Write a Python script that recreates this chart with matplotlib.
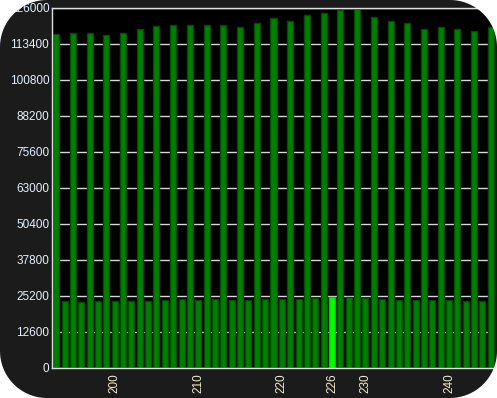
import matplotlib
matplotlib.use("Agg")
import matplotlib.pyplot as plt
from matplotlib.patches import Polygon
from matplotlib.transforms import Affine2D
import numpy as np

# bar data: one bar per x value, tall bars on odd x, short bars on even x
x_tall = list(range(193, 246, 2))
tall_values = [116800, 117100, 117400, 116400, 117400, 118500, 119600, 119900,
               120200, 119900, 120200, 119200, 120600, 122400, 121300, 123400,
               124200, 125200, 125500, 122700, 121300, 120600, 118500, 119200,
               118500, 118100, 119200]
x_short = list(range(194, 245, 2))
short_values = [23450, 23100, 23450, 23450, 23450, 23450, 23800, 24150,
                23800, 24150, 23800, 23800, 24150, 24150, 24150, 24500,
                24850, 24850, 24500, 24150, 23800, 23800, 23800, 23800,
                23450, 23450]
highlight_x = 226
y_ticks = [0, 12600, 25200, 37800, 50400, 63000, 75600, 88200, 100800, 113400, 126000]
x_ticks = [200, 210, 220, 226, 230, 240]

W, H = 497, 398
fig = plt.figure(figsize=(W / 100, H / 100), dpi=100)
fig.patch.set_facecolor("#1b1b1b")

ax = fig.add_axes([52 / W, 30 / H, 443 / W, 360 / H])
ax.set_facecolor("black")
ax.set_axisbelow(True)

green = "#008000"
edge = "#004c00"
ax.bar(x_tall, tall_values, width=0.72, color=green, edgecolor=edge, linewidth=1, zorder=2)
short_colors = ["#00ff00" if x == highlight_x else green for x in x_short]
short_edges = ["#00c800" if x == highlight_x else edge for x in x_short]
ax.bar(x_short, short_values, width=0.72, color=short_colors, edgecolor=short_edges,
       linewidth=1, zorder=2)

ax.set_xlim(192.5, 245.5)
ax.set_ylim(0, 126000)
ax.set_yticks(y_ticks)
ax.set_yticklabels([str(v) for v in y_ticks])
ax.set_xticks(x_ticks)
ax.set_xticklabels([str(v) for v in x_ticks], rotation=90)
ax.grid(axis="y", color="#d8d8d8", linewidth=1)
ax.xaxis.grid(False)
ax.tick_params(axis="y", length=0, pad=2, labelsize=8.5, labelcolor="#e6f0ff")
ax.tick_params(axis="x", length=0, pad=4, labelsize=8.5, labelcolor="#f4ead0")
for lbl in ax.get_xticklabels() + ax.get_yticklabels():
    lbl.set_family("Liberation Sans")
for side in ["left", "bottom", "top"]:
    ax.spines[side].set_color("#e0e0e0")
    ax.spines[side].set_linewidth(1)
    ax.spines[side].set_zorder(3)
ax.spines["right"].set_visible(False)

# white rounded corners of the panel
r = 47
px = Affine2D().scale(1 / W, 1 / H) + fig.transFigure
t = np.linspace(0, np.pi / 2, 30)
corners = [((0, 0), (r, r), np.pi), ((W, 0), (W - r, r), 1.5 * np.pi),
           ((W, H), (W - r, H - r), 0), ((0, H), (r, H - r), 0.5 * np.pi)]
for corner, centre, a0 in corners:
    arc = [(centre[0] + r * np.cos(a0 + a), centre[1] + r * np.sin(a0 + a)) for a in t]
    poly = Polygon([corner] + arc, closed=True, transform=px, facecolor="white",
                   edgecolor="none", zorder=10)
    fig.patches.append(poly)

fig.savefig("out.png", dpi=100, facecolor=fig.get_facecolor())
